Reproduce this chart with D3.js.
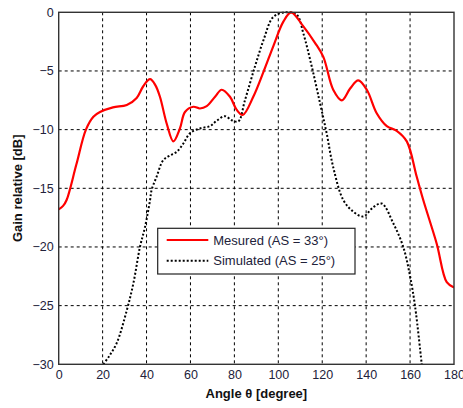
<!DOCTYPE html>
<html>
<head>
<meta charset="utf-8">
<script src="https://cdn.jsdelivr.net/npm/d3@7"></script>
<style>
  html, body { margin: 0; padding: 0; background: #fff; }
  svg { display: block; font-family: "Liberation Sans", Arial, sans-serif; }
</style>
</head>
<body>
<svg id="chart" width="463" height="408"></svg>
<script>
// Radiation pattern: measured vs simulated relative gain
const measuredAngle = [0, 2, 3.6, 8, 12.4, 15.8, 18.8, 24.7, 31, 35.5, 38.5, 41.6, 44, 46.1, 49.2, 52.2, 55.2, 57.5, 61.3, 64.3, 67.4, 71.2, 74.2, 78, 81, 83.8, 88.6, 93.2, 97.7, 102.3, 105.8, 111.4, 116.7, 120.5, 125, 128.9, 132.7, 136.4, 140.3, 144.8, 149.4, 153.9, 158.5, 163, 166, 172.1, 176.7, 180];
const measuredGain  = [-16.8, -16.5, -16, -13, -10, -8.9, -8.5, -8.1, -7.9, -7.3, -6.3, -5.7, -6.2, -7.2, -9.5, -11.0, -9.9, -8.5, -8.05, -8.2, -8.0, -7.2, -6.6, -7.2, -8.3, -8.75, -7.2, -5.1, -2.9, -0.8, 0, -1.2, -2.6, -3.8, -6.6, -7.5, -6.5, -5.8, -6.6, -8.6, -9.7, -10.1, -11.0, -14.0, -16.0, -19.7, -23.0, -23.45];

const simulatedAngle = [20.3, 23, 26.4, 31, 34, 37, 39.3, 41.6, 42.3, 44.6, 47.6, 50.7, 53.7, 56.7, 59.8, 64.3, 68.9, 71.9, 75.7, 78.8, 81.8, 84.8, 89.4, 93.2, 97.7, 103, 108.4, 111.4, 115.2, 119, 122, 125, 129.6, 134.2, 138.7, 143.3, 147.1, 152.4, 156.9, 160, 162.3, 165.3];
const simulatedGain  = [-30, -29.3, -28.2, -25.4, -23.1, -20, -18.3, -16, -15.15, -14, -12.6, -12.2, -11.9, -11.2, -10.3, -9.9, -9.7, -9.25, -8.85, -9.2, -9.3, -7.5, -4.6, -2.4, -0.4, 0, -0.2, -1.8, -4.6, -7.75, -10.3, -13.2, -16.0, -17.0, -17.4, -16.6, -16.3, -18.0, -20, -22.5, -25.1, -30];

const xTicks = [0, 20, 40, 60, 80, 100, 120, 140, 160, 180];
const yTicks = [0, -5, -10, -15, -20, -25, -30];
const seriesLabels = ["Mesured (AS = 33°)", "Simulated (AS = 25°)"];

const svg = d3.select("#chart");
const margin = { left: 58.7, top: 12.3, right: 9, bottom: 43.7 };
const W = 463, H = 408;
const iw = W - margin.left - margin.right;
const ih = H - margin.top - margin.bottom;
const textColor = "#22223a";

const x = d3.scaleLinear().domain([0, 180]).range([0, iw]);
const y = d3.scaleLinear().domain([-30, 0]).range([ih, 0]);

const g = svg.append("g").attr("transform", `translate(${margin.left},${margin.top})`);

// dashed grid
g.append("g").selectAll("line").data(xTicks.slice(1, -1)).join("line")
  .attr("x1", d => x(d)).attr("x2", d => x(d))
  .attr("y1", 0).attr("y2", ih)
  .attr("stroke", "#000").attr("stroke-width", 1).attr("stroke-dasharray", "3,3");
g.append("g").selectAll("line").data(yTicks.slice(1, -1)).join("line")
  .attr("x1", 0).attr("x2", iw)
  .attr("y1", d => y(d)).attr("y2", d => y(d))
  .attr("stroke", "#000").attr("stroke-width", 1).attr("stroke-dasharray", "3,3");

// axes
const xAxis = g.append("g").attr("transform", `translate(0,${ih})`)
  .call(d3.axisBottom(x).tickValues(xTicks).tickSize(0).tickPadding(6));
const yAxis = g.append("g")
  .call(d3.axisLeft(y).tickValues(yTicks).tickSize(0).tickPadding(5));
[xAxis, yAxis].forEach(a => {
  a.select(".domain").remove();
  a.selectAll("text").attr("fill", textColor).style("font-size", "12.5px")
    .style("font-family", "'Liberation Sans', Arial, sans-serif");
});

// clipped data lines
svg.append("defs").append("clipPath").attr("id", "plotClip")
  .append("rect").attr("x", 0).attr("y", -2).attr("width", iw).attr("height", ih + 2);

const line = d3.line()
  .x(d => x(d[0])).y(d => y(d[1]))
  .curve(d3.curveCatmullRom.alpha(0.5));

const measured = measuredAngle.map((a, i) => [a, measuredGain[i]]);
const simulated = simulatedAngle.map((a, i) => [a, simulatedGain[i]]);

const lines = g.append("g").attr("clip-path", "url(#plotClip)");
lines.append("path").datum(simulated)
  .attr("d", line).attr("fill", "none")
  .attr("stroke", "#000").attr("stroke-width", 2).attr("stroke-dasharray", "2,2");
lines.append("path").datum(measured)
  .attr("d", line).attr("fill", "none")
  .attr("stroke", "#ff0000").attr("stroke-width", 2.2);

// frame
g.append("rect").attr("x", 0).attr("y", 0).attr("width", iw).attr("height", ih)
  .attr("fill", "none").attr("stroke", "#333").attr("stroke-width", 1.4);

// legend
const lg = svg.append("g").attr("transform", "translate(157.7,228.3)");
lg.append("rect").attr("width", 197.3).attr("height", 45.7)
  .attr("fill", "#fff").attr("stroke", "#222").attr("stroke-width", 1.2);
const legendRows = [
  { label: seriesLabels[0], color: "#ff0000", dash: null, w: 2.2 },
  { label: seriesLabels[1], color: "#000", dash: "2,2", w: 2 }
];
legendRows.forEach((r, i) => {
  const yy = 11.7 + i * 20.7;
  lg.append("line").attr("x1", 9).attr("x2", 50.6).attr("y1", yy).attr("y2", yy)
    .attr("stroke", r.color).attr("stroke-width", r.w)
    .attr("stroke-dasharray", r.dash);
  lg.append("text").attr("x", 55.6).attr("y", yy + 4.6)
    .attr("fill", textColor).style("font-size", "13px").text(r.label);
});

// axis titles
svg.append("text").attr("x", margin.left + iw / 2).attr("y", 398)
  .attr("text-anchor", "middle").attr("fill", "#111")
  .style("font-size", "13px").style("font-weight", "bold")
  .text("Angle θ [degree]");
svg.append("text")
  .attr("transform", `translate(22,${margin.top + ih / 2}) rotate(-90)`)
  .attr("text-anchor", "middle").attr("fill", "#111")
  .style("font-size", "13px").style("font-weight", "bold")
  .text("Gain relative [dB]");
</script>
</body>
</html>
